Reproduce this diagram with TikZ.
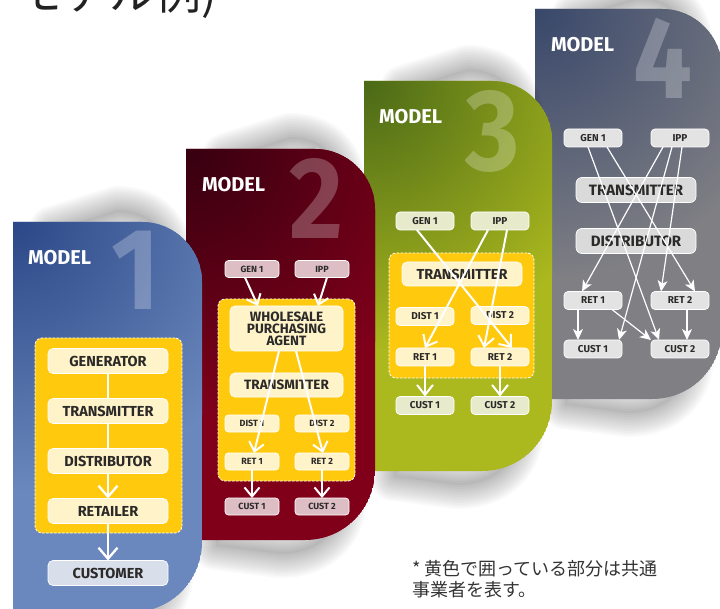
\documentclass[tikz,border=0pt]{standalone}
\usepackage{fontspec}
\setmainfont{Fira Sans}
\newfontfamily\cjkfont{Noto Sans CJK JP}
\newfontfamily\digitfont{Fira Sans}[FakeStretch=0.9]
\usetikzlibrary{arrows.meta}

\definecolor{ybox}{HTML}{FFC90D}
\definecolor{cream}{HTML}{FFF3C9}
\definecolor{txt}{HTML}{2B2A29}
\definecolor{hdr}{HTML}{222222}
\definecolor{notec}{HTML}{333333}
\definecolor{pAmain}{HTML}{6A88BD}
\definecolor{pAdark}{HTML}{2C4787}
\definecolor{pBmain}{HTML}{80001A}
\definecolor{pBdark}{HTML}{360010}
\definecolor{pCmain}{HTML}{ABB81E}
\definecolor{pCdark}{HTML}{4A6917}
\definecolor{pDmain}{HTML}{7F7F84}
\definecolor{pDdark}{HTML}{38476A}
\definecolor{mAcust}{HTML}{D8DFEB}
\definecolor{mBout}{HTML}{DDBEC5}
\definecolor{mCout}{HTML}{E7EBCB}
\definecolor{mDnode}{HTML}{E3E3E3}
\definecolor{mDbig}{HTML}{DADADA}

\newcommand\panelpath[4]{(#1,#2) -- ({#3-60},#2) .. controls ({#3-27},#2) and (#3,{#2+27}) .. (#3,{#2+60}) -- (#3,{#4-70}) .. controls (#3,{#4-31}) and ({#3-31},#4) .. ({#3-70},#4) -- (#1,#4) -- cycle}

\newcommand\shadowpath[4]{({#1+40},{#2+8}) -- ({#3-85},{#2-12}) .. controls ({#3-50},{#2-12}) and ({#3-32},{#2+10}) .. ({#3-32},{#2+45}) -- ({#3-32},{#4-45}) .. controls ({#3-32},{#4-10}) and ({#3-55},{#4+14}) .. ({#3-95},{#4+14}) -- ({#1+30},{#4+6}) -- cycle}

\newcommand\dropshadow[4]{%
  \foreach \w in {48,44,...,4}{\draw[black,opacity=0.022,line width=\w pt,line join=round] \shadowpath{#1}{#2}{#3}{#4};}%
  \fill[black,opacity=0.04] \shadowpath{#1}{#2}{#3}{#4};}

\newcommand\panel[6]{%
  \dropshadow{#1}{#2}{#3}{#4}
  \begin{scope}
    \clip \panelpath{#1}{#2}{#3}{#4};
    \fill[#5] \panelpath{#1}{#2}{#3}{#4};
    \shade[inner color=#6, outer color=#5] (#1,#2) circle (270pt);
  \end{scope}}

\tikzset{
  every node/.style={inner sep=0pt, outer sep=0pt},
  yellowarea/.style={fill=ybox, draw=white, line width=0.8pt, dash pattern=on 2.5pt off 1.5pt, rounded corners=7pt},
  box/.style={draw=white, line width=0.7pt, fill=cream, text=txt, align=center, rounded corners=4pt},
  mAbox/.style={box, minimum width=120pt, minimum height=25pt, rounded corners=5pt, font=\bfseries\fontsize{14.5}{16}\selectfont},
  mBsmall/.style={box, minimum width=54pt, minimum height=17pt, rounded corners=3.5pt, font=\bfseries\fontsize{9}{10}\selectfont},
  mBbig/.style={box, minimum width=113pt, minimum height=24pt, rounded corners=5pt, font=\bfseries\fontsize{13.5}{12}\selectfont},
  mCsmall/.style={box, minimum width=58pt, minimum height=18pt, rounded corners=4pt, font=\bfseries\fontsize{10}{11}\selectfont},
  mCbig/.style={box, minimum width=120pt, minimum height=24pt, rounded corners=5pt, font=\bfseries\fontsize{14.5}{16}\selectfont},
  mDsmall/.style={box, fill=mDnode, minimum width=58pt, minimum height=18pt, rounded corners=4pt, font=\bfseries\fontsize{10}{11}\selectfont},
  mDbig/.style={box, fill=mDbig, minimum width=120pt, minimum height=25pt, rounded corners=6pt, font=\bfseries\fontsize{15}{16}\selectfont},
  modellbl/.style={anchor=base west, text=white, font=\bfseries\fontsize{20}{22}\selectfont},
  bignum/.style={anchor=north east, text=white, text opacity=0.25, font=\digitfont\bfseries\fontsize{116}{116}\selectfont},
  mAline/.style={draw=white, line width=2.3pt},
  mAarr/.style={mAline, -{Straight Barb[length=11pt,width=19pt]}},
  mBarr/.style={draw=white, line width=2pt, -{Straight Barb[length=9pt,width=15pt]}},
  mCarr/.style={draw=white, line width=2pt, -{Straight Barb[length=10pt,width=16pt]}},
  mDarr/.style={draw=white, line width=1.2pt, -{Stealth[length=11pt,width=10pt,inset=3pt]}},
}

\begin{document}
\begin{tikzpicture}[x=1pt,y=-1pt]
\useasboundingbox (0,0) rectangle (720,609);
\clip (0,0) rectangle (720,609);

% header (cut off at the top)
\node[anchor=base west, text=hdr, font=\cjkfont\fontsize{46}{46}\selectfont] (title) at (17,10) {モデル例)};

% ---------------- MODEL 4 ----------------
\panel{535}{9}{722}{399}{pDmain}{pDdark}
\node[modellbl] (mDlbl) at (551,52) {MODEL};
\node[bignum] (mDnum) at (692,18) {4};
\node[mDsmall] (mDg) at (593,138) {GEN 1};
\node[mDsmall] (mDi) at (680,138) {IPP};
\node[mDbig] (mDt) at (636,190) {TRANSMITTER};
\node[mDbig] (mDd) at (636,241) {DISTRIBUTOR};
\node[mDsmall] (mDr1) at (593,300.5) {RET 1};
\node[mDsmall] (mDr2) at (680,300.5) {RET 2};
\node[mDsmall] (mDc1) at (593,349) {CUST 1};
\node[mDsmall] (mDc2) at (680,349) {CUST 2};
\draw[mDarr] ([xshift=14pt]mDg.south) -- ([xshift=15pt]mDr2.north);
\draw[mDarr] ([xshift=-5pt]mDg.south) -- ([xshift=-21pt]mDc2.north);
\draw[mDarr] ([xshift=-17pt]mDi.south) -- ([xshift=-11pt]mDr1.north);
\draw[mDarr] ([xshift=-8pt]mDi.south) -- ([xshift=26pt]mDc1.north);
\draw[mDarr] ([xshift=2pt]mDi.south) -- ([xshift=-19pt]mDr2.north);
\draw[mDarr] ([xshift=-15pt]mDr1.south) -- ([xshift=-15pt]mDc1.north);
\draw[mDarr] ([xshift=19pt]mDr1.south) -- (mDc2.north west);
\draw[mDarr] ([xshift=7pt]mDr2.south) -- ([xshift=7pt]mDc2.north);

% ---------------- MODEL 3 ----------------
\panel{364}{81}{552}{471}{pCmain}{pCdark}
\node[modellbl] (mClbl) at (379,124) {MODEL};
\node[bignum] (mCnum) at (520,90) {3};
\node[yellowarea, minimum width=145pt, minimum height=125pt] (mCy) at (461.5,315.5) {};
\node[mCsmall, fill=mCout] (mCg) at (425,221) {GEN 1};
\node[mCsmall, fill=mCout] (mCi) at (500,221) {IPP};
\node[mCbig] (mCt) at (462,274) {TRANSMITTER};
\node[mCsmall] (mCd1) at (425,316.5) {DIST 1};
\node[mCsmall] (mCd2) at (500,315.5) {DIST 2};
\node[mCsmall] (mCr1) at (425,357) {RET 1};
\node[mCsmall] (mCr2) at (500,357) {RET 2};
\node[mCsmall, fill=mCout] (mCc1) at (425,405.5) {CUST 1};
\node[mCsmall, fill=mCout] (mCc2) at (500,405.5) {CUST 2};
\draw[mCarr] ([xshift=-8pt]mCg.south) -- ([xshift=12pt]mCr2.north);
\draw[mCarr] ([xshift=-12pt]mCi.south) -- (mCr1.north);
\draw[mCarr] ([xshift=7pt]mCi.south) -- ([xshift=-16pt]mCr2.north);
\draw[mCarr] (mCr1) -- (mCc1);
\draw[mCarr] (mCr2) -- (mCc2);

% ---------------- MODEL 2 ----------------
\panel{186}{149}{375}{540}{pBmain}{pBdark}
\node[modellbl] (mBlbl) at (202,192) {MODEL};
\node[bignum] (mBnum) at (343,158) {2};
\node[yellowarea, minimum width=137pt, minimum height=182pt] (mBy) at (286.5,390) {};
\node[mBsmall, fill=mBout] (mBg) at (252,269) {GEN 1};
\node[mBsmall, fill=mBout] (mBi) at (322,269) {IPP};
\node[mBbig, minimum height=45pt] (mBw) at (286.5,328.5) {WHOLESALE\\PURCHASING\\AGENT};
\node[mBbig] (mBt) at (286.5,385) {TRANSMITTER};
\node[mBsmall] (mBd1) at (252,423.5) {DIST 1};
\node[mBsmall] (mBd2) at (322,423.5) {DIST 2};
\node[mBsmall] (mBr1) at (252,461.5) {RET 1};
\node[mBsmall] (mBr2) at (322,461.5) {RET 2};
\node[mBsmall, fill=mBout] (mBc1) at (252,506.5) {CUST 1};
\node[mBsmall, fill=mBout] (mBc2) at (322,506.5) {CUST 2};
\draw[mBarr] ([xshift=-7pt]mBg.south) -- ([xshift=-28.5pt]mBw.north);
\draw[mBarr] ([xshift=5pt]mBi.south) -- ([xshift=31.5pt]mBw.north);
\draw[mBarr] ([xshift=-7.5pt]mBw.south) -- ([xshift=2pt]mBr1.north);
\draw[mBarr] ([xshift=9.5pt]mBw.south) -- ([xshift=1pt]mBr2.north);
\draw[mBarr] (mBr1) -- (mBc1);
\draw[mBarr] (mBr2) -- (mBc2);

% ---------------- MODEL 1 ----------------
\panel{13}{222}{202}{612}{pAmain}{pAdark}
\node[modellbl] (mAlbl) at (28,265) {MODEL};
\node[bignum] (mAnum) at (160,231) {1};
\node[yellowarea, minimum width=147pt, minimum height=195pt] (mAy) at (108.5,435.5) {};
\node[mAbox] (mAgen) at (108,361) {GENERATOR};
\node[mAbox] (mAtra) at (108,411) {TRANSMITTER};
\node[mAbox] (mAdis) at (108,461) {DISTRIBUTOR};
\node[mAbox] (mAret) at (108,511) {RETAILER};
\node[mAbox, fill=mAcust] (mAcus) at (108,573) {CUSTOMER};
\draw[mAline] (mAgen) -- (mAtra);
\draw[mAline] (mAtra) -- (mAdis);
\draw[mAarr] (mAdis) -- (mAret);
\draw[mAarr] (mAret) -- (mAcus);

% note
\node[anchor=base west, text=notec, font=\cjkfont\fontsize{18}{20}\selectfont] (note1) at (412,575) {* 黄色で囲っている部分は共通};
\node[anchor=base west, text=notec, font=\cjkfont\fontsize{18}{20}\selectfont] (note2) at (412,596) {事業者を表す。};
\end{tikzpicture}
\end{document}
